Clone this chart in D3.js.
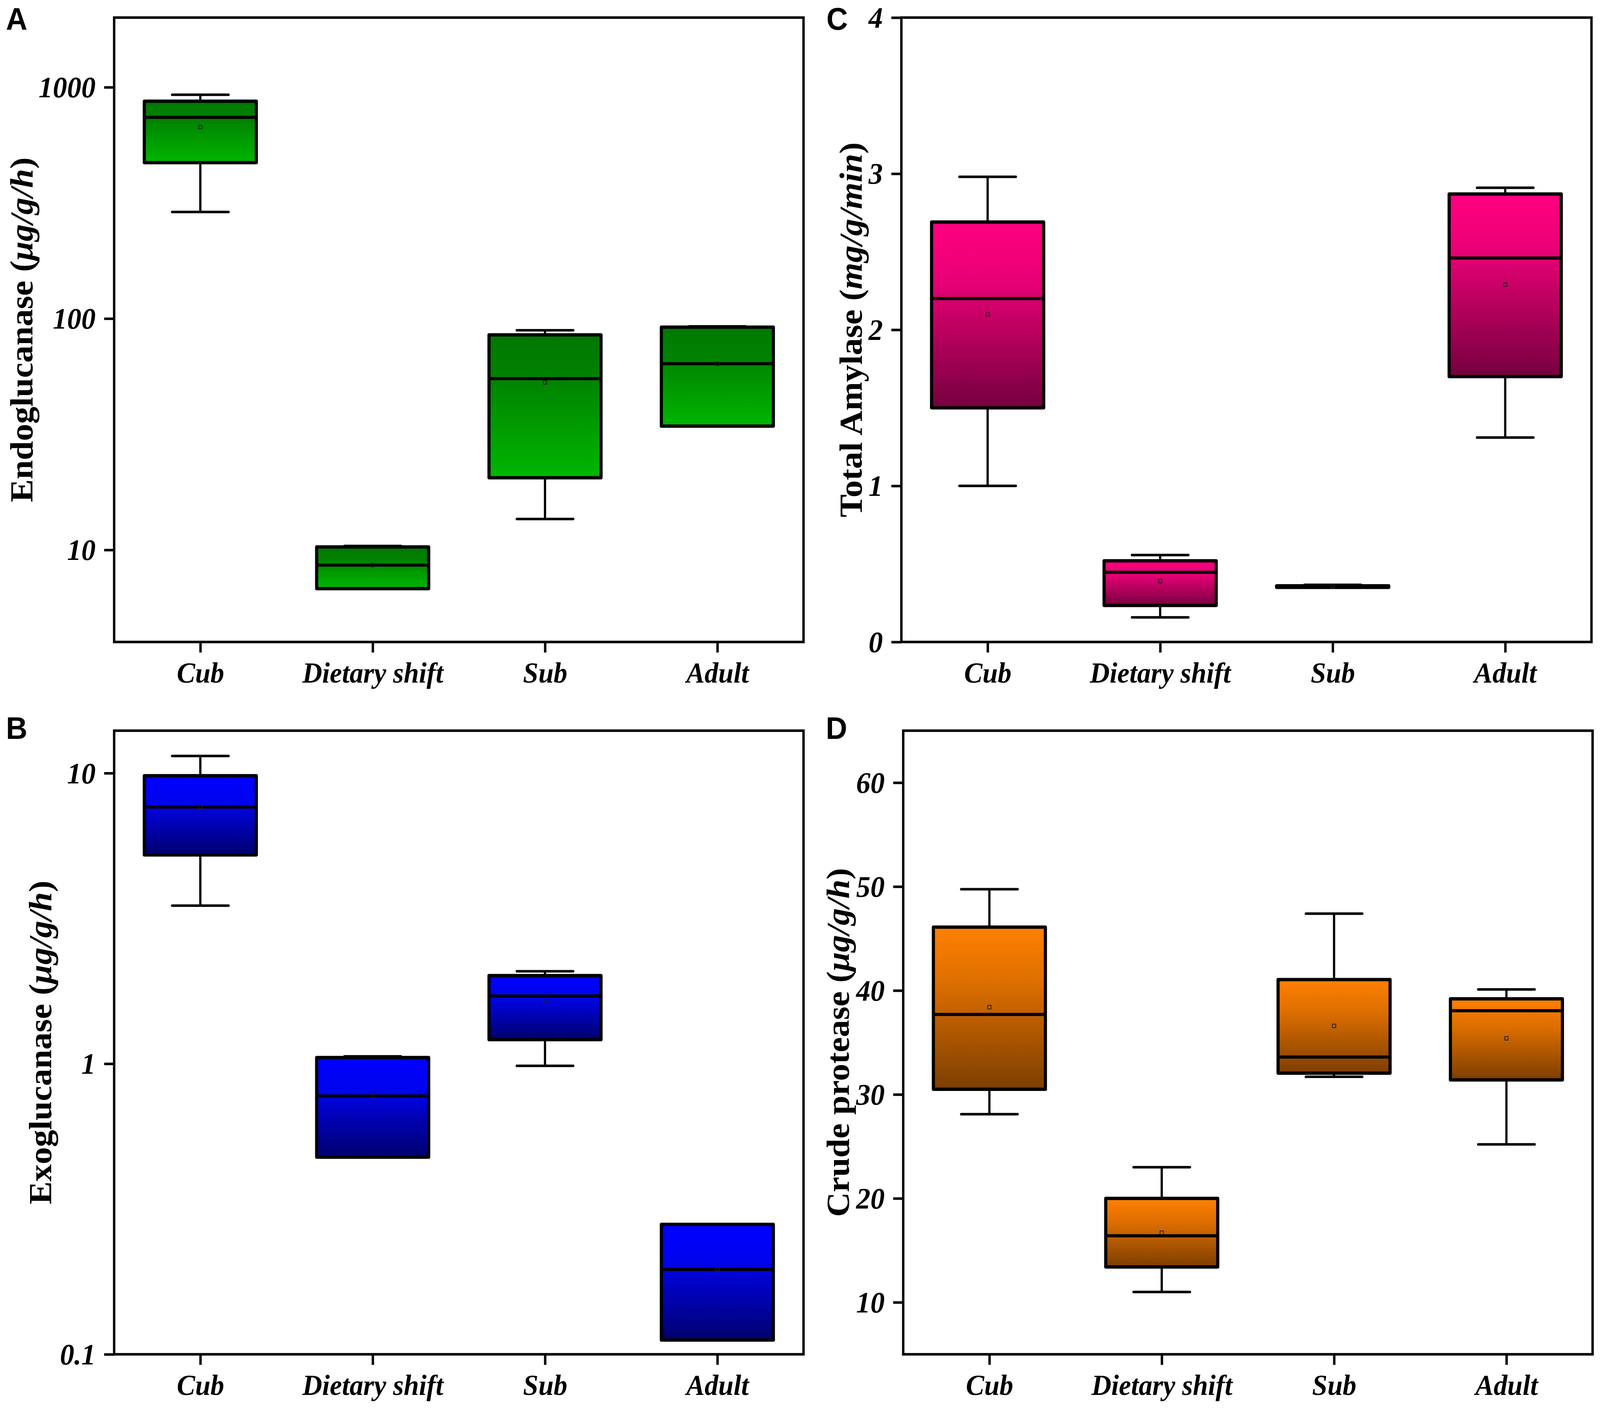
<!DOCTYPE html>
<html>
<head>
<meta charset="utf-8">
<script src="https://cdn.jsdelivr.net/npm/d3@7"></script>
<style>
  html, body { margin: 0; padding: 0; background: #fff; overflow: hidden; }
  svg { display: block; }
</style>
</head>
<body>
<svg id="chart" viewBox="0 0 4317 3606" preserveAspectRatio="none" style="width:100vw;height:100vh"></svg>
<script>
// ---------------- DATA ----------------
const categories = ["Cub", "Dietary shift", "Sub", "Adult"];

// Panel A: Endoglucanase (µg/g/h), log scale
const endoMin  = [289, 6.8, 13.6, 34.3];
const endoQ1   = [472, 6.8, 20.5, 34.3];
const endoMed  = [741, 8.6, 55, 63.8];
const endoQ3   = [870, 10.3, 85, 91.8];
const endoMax  = [928, 10.4, 89, 92.5];
const endoMean = [673, 8.6, 53, 63.8];
const endoTicks = [10, 100, 1000];

// Panel B: Exoglucanase (µg/g/h), log scale
const exoMin  = [3.5, 0.477, 0.983, 0.112];
const exoQ1   = [5.23, 0.477, 1.21, 0.112];
const exoMed  = [7.65, 0.774, 1.71, 0.196];
const exoQ3   = [9.8, 1.05, 2.01, 0.28];
const exoMax  = [11.46, 1.06, 2.08, 0.28];
const exoMean = [7.65, 0.774, 1.64, 0.196];
const exoTicks = [0.1, 1, 10];

// Panel C: Total Amylase (mg/g/min), linear
const amyMin  = [1.00, 0.158, 0.350, 1.31];
const amyQ1   = [1.50, 0.234, 0.350, 1.70];
const amyMed  = [2.20, 0.447, 0.355, 2.46];
const amyQ3   = [2.69, 0.520, 0.360, 2.87];
const amyMax  = [2.98, 0.557, 0.366, 2.91];
const amyMean = [2.10, 0.39, 0.357, 2.29];
const amyTicks = [0, 1, 2, 3, 4];

// Panel D: Crude protease (µg/g/h), linear
const protMin  = [28.1, 11.0, 31.7, 25.2];
const protQ1   = [30.5, 13.4, 32.05, 31.4];
const protMed  = [37.7, 16.4, 33.6, 38.05];
const protQ3   = [46.1, 20.0, 41.05, 39.2];
const protMax  = [49.75, 23.0, 47.4, 40.1];
const protMean = [38.4, 16.7, 36.6, 35.4];
const protTicks = [10, 20, 30, 40, 50, 60];

// ---------------- DRAWING ----------------
const svg = d3.select("#chart");
const defs = svg.append("defs");
const SERIF = "'Liberation Serif','Times New Roman',Times,serif";
const SANS = "'Liberation Sans',Arial,Helvetica,sans-serif";

function makeGrad(id, stops) {
  const g = defs.append("linearGradient").attr("id", id)
    .attr("x1", 0).attr("y1", 0).attr("x2", 0).attr("y2", 1);
  stops.forEach(s => g.append("stop").attr("offset", s[0]).attr("stop-color", s[1]));
}
makeGrad("gGreen",  [[0, "#007800"], [0.3, "#008200"], [1, "#00b600"]]);
makeGrad("gBlue",   [[0, "#0000ff"], [0.3, "#0004ee"], [1, "#00006c"]]);
makeGrad("gPink",   [[0, "#ff0080"], [0.3, "#ea0076"], [1, "#75003e"]]);
makeGrad("gOrange", [[0, "#ff8000"], [0.35, "#dc6e00"], [1, "#7c3e00"]]);

const panels = [
  { letter: "A", lx: 16, ly: 76, left: 308, right: 2168, top: 45, bottom: 1643,
    log: true, domain: [4, 2000], ticks: endoTicks,
    min: endoMin, q1: endoQ1, med: endoMed, q3: endoQ3, max: endoMax, mean: endoMean,
    grad: "gGreen", titleX: 88, title: ["Endoglucanase (", "μg/g/h", ")"] },
  { letter: "B", lx: 16, ly: 1891, left: 308, right: 2168, top: 1870, bottom: 3466,
    log: true, domain: [0.1, 14], ticks: exoTicks,
    min: exoMin, q1: exoQ1, med: exoMed, q3: exoQ3, max: exoMax, mean: exoMean,
    grad: "gBlue", titleX: 138, title: ["Exoglucanase (", "μg/g/h", ")"] },
  { letter: "C", lx: 2230, ly: 76, left: 2432, right: 4294, top: 45, bottom: 1643,
    log: false, domain: [0, 4], ticks: amyTicks,
    min: amyMin, q1: amyQ1, med: amyMed, q3: amyQ3, max: amyMax, mean: amyMean,
    grad: "gPink", titleX: 2325, title: ["Total Amylase (", "mg/g/min", ")"] },
  { letter: "D", lx: 2228, ly: 1891, left: 2437, right: 4297, top: 1870, bottom: 3466,
    log: false, domain: [5, 65], ticks: protTicks,
    min: protMin, q1: protQ1, med: protMed, q3: protQ3, max: protMax, mean: protMean,
    grad: "gOrange", titleX: 2290, title: ["Crude protease (", "μg/g/h", ")"] }
];

panels.forEach(p => {
  const g = svg.append("g");
  const x = d3.scalePoint().domain(categories).range([p.left, p.right]).padding(0.5);
  const y = (p.log ? d3.scaleLog() : d3.scaleLinear()).domain(p.domain).range([p.bottom, p.top]);
  const step = x.step();
  const boxW = step * 0.65;
  const capW = 152;

  categories.forEach((c, i) => {
    const cx = x(c);
    g.append("line").attr("x1", cx).attr("x2", cx)
      .attr("y1", y(p.max[i])).attr("y2", y(p.min[i]))
      .attr("stroke", "#000").attr("stroke-width", 6);
    [p.max[i], p.min[i]].forEach(v => {
      g.append("line").attr("x1", cx - capW / 2).attr("x2", cx + capW / 2)
        .attr("y1", y(v)).attr("y2", y(v))
        .attr("stroke", "#000").attr("stroke-width", 6.5).attr("stroke-linecap", "round");
    });
  });
  categories.forEach((c, i) => {
    const cx = x(c);
    const yt = y(p.q3[i]), yb = y(p.q1[i]);
    g.append("rect").attr("x", cx - boxW / 2).attr("y", yt)
      .attr("width", boxW).attr("height", Math.max(1, yb - yt))
      .attr("fill", `url(#${p.grad})`)
      .attr("stroke", "#000").attr("stroke-width", 8.5).attr("stroke-linejoin", "round");
    g.append("line").attr("x1", cx - boxW / 2).attr("x2", cx + boxW / 2)
      .attr("y1", y(p.med[i])).attr("y2", y(p.med[i]))
      .attr("stroke", "#000").attr("stroke-width", 8);
    const ym = y(p.mean[i]);
    g.append("rect").attr("x", cx - 4.5).attr("y", ym - 4.5).attr("width", 9).attr("height", 9)
      .attr("fill", "none").attr("stroke", "#222").attr("stroke-width", 2);
  });

  const yAxis = d3.axisLeft(y).tickValues(p.ticks).tickFormat(d => String(d)).tickSize(27).tickPadding(23);
  const ya = g.append("g").attr("transform", `translate(${p.left},0)`).call(yAxis);
  const xAxis = d3.axisBottom(x).tickSize(27);
  const xa = g.append("g").attr("transform", `translate(0,${p.bottom})`).call(xAxis);
  [ya, xa].forEach(a => {
    a.select(".domain").remove();
    a.selectAll(".tick line").attr("stroke", "#000").attr("stroke-width", 6.5);
    a.selectAll(".tick text").attr("fill", "#000")
      .style("font-family", SERIF).style("font-weight", "bold").style("font-style", "italic");
  });
  ya.selectAll(".tick text").style("font-size", "77px").attr("dy", "0.33em");
  xa.selectAll(".tick text").style("font-size", "74px").attr("y", 104).attr("dy", 0);

  g.append("rect").attr("x", p.left).attr("y", p.top)
    .attr("width", p.right - p.left).attr("height", p.bottom - p.top)
    .attr("fill", "none").attr("stroke", "#000").attr("stroke-width", 6.5);

  const cy = (p.top + p.bottom) / 2;
  const t = g.append("text")
    .attr("transform", `translate(${p.titleX},${cy}) rotate(-90)`)
    .attr("text-anchor", "middle")
    .style("font-family", SERIF).style("font-weight", "bold").style("font-size", "88px")
    .attr("fill", "#000");
  t.append("tspan").text(p.title[0]);
  t.append("tspan").style("font-style", "italic").text(p.title[1]);
  t.append("tspan").text(p.title[2]);

  g.append("text").attr("x", p.lx).attr("y", p.ly)
    .style("font-family", SANS).style("font-weight", "bold").style("font-size", "80px")
    .attr("fill", "#000").text(p.letter);
});
</script>
</body>
</html>
